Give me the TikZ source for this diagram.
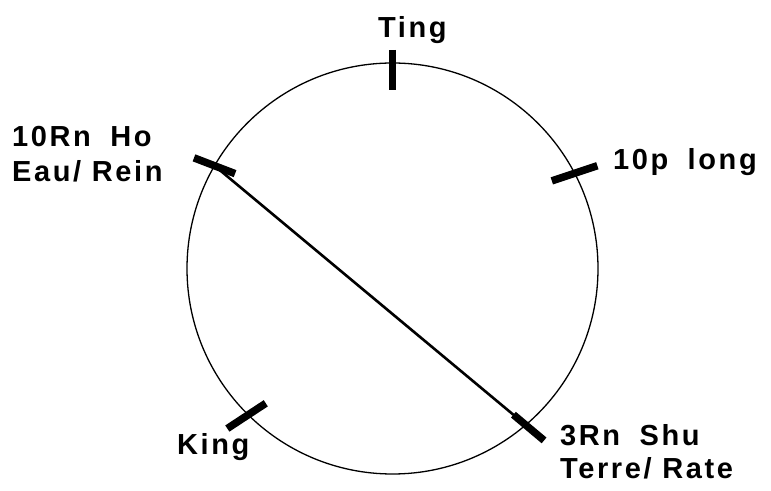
\documentclass[tikz,border=0pt]{standalone}
\usepackage{fontspec}
\newfontfamily\lblfont[LetterSpace=9]{Liberation Sans}
\usetikzlibrary{calc}

\begin{document}
\begin{tikzpicture}[x=1pt,y=1pt,
  lbl/.style={font=\lblfont\bfseries\fontsize{29}{34}\selectfont,
              inner sep=0pt,anchor=base west},
  rim/.style={draw,line width=1.3pt},
  tickmark/.style={line width=7.5pt},
  chord/.style={line width=2.6pt}]
  \useasboundingbox (0,0) rectangle (771,490);
  \coordinate (C) at (392.5,221.5);
  \draw[rim] (C) circle (205.5);
  % points on the rim
  \coordinate (pTing) at ($(C)+(90:205.5)$);
  \coordinate (pHo)   at ($(C)+(150:205.5)$);
  \coordinate (pLong) at ($(C)+(27.6:205.5)$);
  \coordinate (pKing) at ($(C)+(225.4:205.5)$);
  \coordinate (pShu)  at ($(C)+(310.4:205.5)$);
  \draw[chord] (pHo) -- (pShu);
  % ticks
  \draw[tickmark] ($(pTing)+(90:13)$) -- ($(pTing)+(270:27)$);
  \draw[tickmark] ($(pHo)+(159:22)$) -- ($(pHo)+(339:22)$);
  \draw[tickmark] ($(pLong)+(18.4:24)$) -- ($(pLong)+(198.4:24)$);
  \draw[tickmark] ($(pKing)+(213.3:25)$) -- ($(pKing)+(33.3:21)$);
  \draw[tickmark] ($(pShu)+(-40:24)$) -- ($(pShu)+(140:16)$);
  % labels
  \node[lbl] (ting) at (378,452) {Ting};
  \node[lbl] (ho) at (12,343) {10Rn\hspace{0.3em} Ho};
  \node[lbl] (eau) at (12,308) {Eau/ Rein};
  \node[lbl] (long) at (613,320) {10p\hspace{0.3em} long};
  \node[lbl] (king) at (177,35) {King};
  \node[lbl] (shu) at (560,45) {3Rn\hspace{0.3em} Shu};
  \node[lbl] (terre) at (560,12) {Terre/ Rate};
\end{tikzpicture}
\end{document}
